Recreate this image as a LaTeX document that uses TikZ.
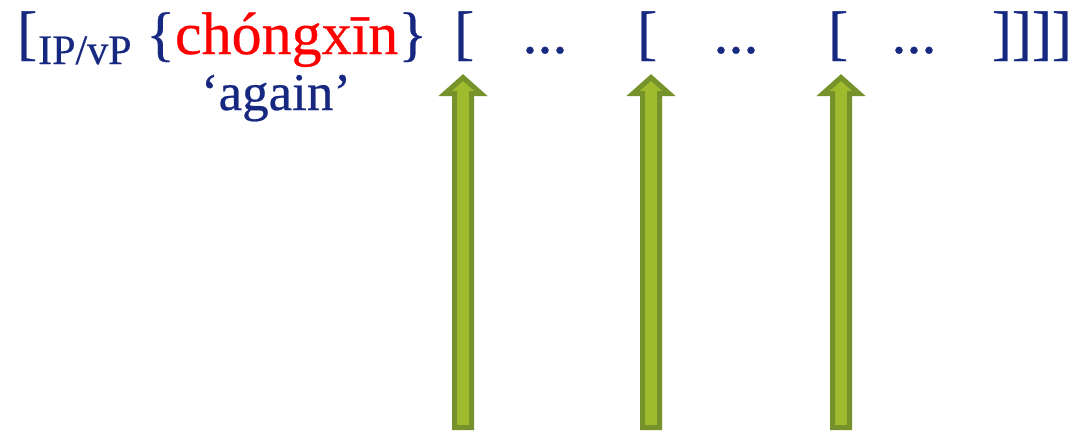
\documentclass[tikz,border=0pt]{standalone}
\usepackage{fontspec}
\setmainfont{Liberation Serif}[FakeBold=0.45]
\usetikzlibrary{calc}
\definecolor{navy}{RGB}{22,40,128}
\definecolor{pyred}{RGB}{255,0,0}
\definecolor{arrdark}{RGB}{118,146,42}
\definecolor{arrlight}{RGB}{158,187,46}

\begin{document}
\begin{tikzpicture}[x=1pt, y=-1pt,
  txt/.style={inner sep=0pt, text=navy, font=\fontsize{60}{70}\selectfont},
  sub/.style={inner sep=0pt, text=navy, font=\fontsize{42}{48}\selectfont},
  gloss/.style={inner sep=0pt, text=navy, font=\fontsize{53}{60}\selectfont},
  fatarrow/.style={draw=arrdark, fill=arrlight, line width=5pt, line join=miter}]
  \useasboundingbox (0,0) rectangle (1079,432);
  \node[txt, anchor=base west] (open) at (17,53) {[};
  \node[sub, anchor=base west] (cat) at (38,64) {IP/vP};
  \node[txt, anchor=base west] (adv) at (146,54) {\{\textcolor{pyred}{chóngxīn}\}};
  \node[gloss, anchor=base] (gloss) at (276,110) {‘again’};
  % embedded brackets, each with its arrow from below
  \foreach \i/\xb/\xd/\xa in {1/454/545/463, 2/637/736/651, 3/828/914/841}{
    \node[txt, anchor=base west] (lb\i) at (\xb,53) {[};
    \node[txt, anchor=base] (dots\i) at (\xd,53) {...};
    \coordinate (foot\i) at (\xa,427.5);
    \coordinate (tip\i) at (\xa,77.5);
    \draw[fatarrow] ($(foot\i)+(-8.5,0)$) -- ($(tip\i)+(-8.5,16)$) -- ($(tip\i)+(-18,16)$)
      -- (tip\i) -- ($(tip\i)+(18,16)$) -- ($(tip\i)+(8.5,16)$) -- ($(foot\i)+(8.5,0)$) -- cycle;
  }
  \node[txt, anchor=base east] (close) at (1072,53) {]]]]};
\end{tikzpicture}
\end{document}
